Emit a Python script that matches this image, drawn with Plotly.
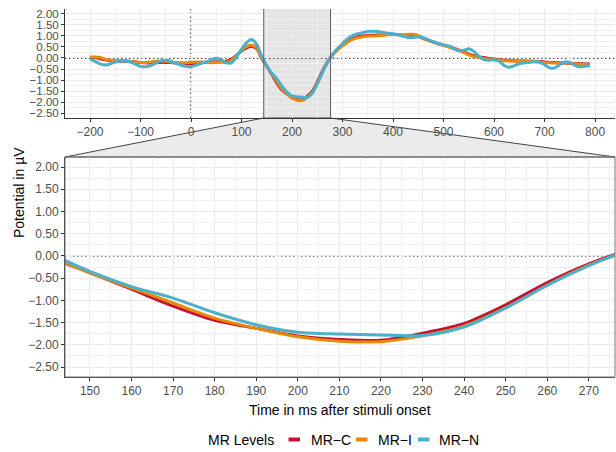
import plotly.graph_objects as go

# ---------------- data ----------------
time_ms = list(range(-200, 800, 10))

mr_c = [0.02, 0.02, -0.03, -0.08, -0.12, -0.14, -0.15, -0.15, -0.16, -0.18,
        -0.20, -0.22, -0.22, -0.21, -0.20, -0.20, -0.21, -0.23, -0.24, -0.25,
        -0.25, -0.24, -0.22, -0.20, -0.18, -0.17, -0.17, -0.15, -0.05, 0.12,
        0.32, 0.46, 0.52, 0.42, -0.02, -0.38, -0.75, -1.13, -1.45, -1.63,
        -1.80, -1.88, -1.90, -1.74, -1.52, -1.10, -0.60, -0.18, 0.15, 0.40,
        0.60, 0.78, 0.90, 0.97, 1.00, 1.02, 1.03, 1.04, 1.06, 1.07,
        1.07, 1.06, 1.03, 1.02, 1.02, 0.98, 0.88, 0.80, 0.72, 0.64,
        0.58, 0.52, 0.45, 0.36, 0.28, 0.18, 0.10, 0.05, 0.02, -0.02,
        -0.05, -0.08, -0.10, -0.12, -0.13, -0.14, -0.14, -0.15, -0.15, -0.16,
        -0.18, -0.20, -0.21, -0.22, -0.23, -0.24, -0.25, -0.26, -0.27, -0.27]

mr_i = [0.04, 0.05, 0.02, -0.05, -0.10, -0.12, -0.12, -0.13, -0.15, -0.18,
        -0.20, -0.20, -0.18, -0.15, -0.14, -0.15, -0.18, -0.20, -0.22, -0.22,
        -0.20, -0.18, -0.18, -0.20, -0.22, -0.20, -0.18, -0.20, -0.10, 0.10,
        0.35, 0.52, 0.58, 0.45, 0.00, -0.38, -0.72, -1.06, -1.40, -1.63,
        -1.82, -1.92, -1.93, -1.80, -1.58, -1.17, -0.66, -0.21, 0.12, 0.36,
        0.55, 0.72, 0.85, 0.92, 0.96, 0.99, 1.00, 1.01, 1.03, 1.05,
        1.06, 1.07, 1.06, 1.08, 1.08, 1.02, 0.90, 0.80, 0.72, 0.65,
        0.58, 0.50, 0.42, 0.34, 0.25, 0.14, 0.06, 0.02, -0.02, -0.05,
        -0.08, -0.10, -0.12, -0.13, -0.14, -0.15, -0.15, -0.15, -0.16, -0.18,
        -0.20, -0.22, -0.23, -0.22, -0.22, -0.24, -0.26, -0.28, -0.30, -0.30]

mr_n = [-0.05, -0.15, -0.27, -0.32, -0.27, -0.18, -0.14, -0.15, -0.18, -0.28,
        -0.38, -0.40, -0.35, -0.24, -0.14, -0.10, -0.15, -0.24, -0.32, -0.38,
        -0.40, -0.33, -0.25, -0.18, -0.08, -0.01, -0.08, -0.22, -0.22, 0.05,
        0.40, 0.70, 0.84, 0.62, 0.08, -0.35, -0.69, -0.95, -1.28, -1.55,
        -1.72, -1.76, -1.78, -1.79, -1.60, -1.17, -0.66, -0.22, 0.15, 0.42,
        0.66, 0.88, 1.02, 1.10, 1.15, 1.20, 1.22, 1.20, 1.16, 1.12,
        1.10, 1.06, 0.98, 0.93, 0.93, 0.96, 0.92, 0.83, 0.74, 0.66,
        0.60, 0.55, 0.44, 0.33, 0.35, 0.42, 0.30, 0.08, -0.07, -0.10,
        -0.08, -0.15, -0.34, -0.42, -0.35, -0.26, -0.22, -0.20, -0.17, -0.18,
        -0.30, -0.45, -0.45, -0.30, -0.18, -0.20, -0.33, -0.40, -0.37, -0.35]

series_names = ["MR\u2212C", "MR\u2212I", "MR\u2212N"]
series_values = [mr_c, mr_i, mr_n]
series_colors = ["#C4122F", "#E8890C", "#4AB0CC"]

top_xticks = [-200, -100, 0, 100, 200, 300, 400, 500, 600, 700, 800]
bottom_xticks = [150, 160, 170, 180, 190, 200, 210, 220, 230, 240, 250, 260, 270]
y_ticks = [-2.5, -2.0, -1.5, -1.0, -0.5, 0.0, 0.5, 1.0, 1.5, 2.0]

top_xrange = [-249.5, 839.5]
zoom_range = [144.0, 276.3]
y_range = [-2.725, 2.225]

# ---------------- layout geometry ----------------
W, H = 616, 452
FONT = "Liberation Sans, Arial, sans-serif"
x_dom = [65 / W, 615 / W]
top_dom = [1 - 118 / H, 1 - 9 / H]
bot_dom = [1 - 377 / H, 1 - 157 / H]

fig = go.Figure()
for name, vals, col in zip(series_names, series_values, series_colors):
    for xa, ya in (("x", "y"), ("x2", "y2")):
        fig.add_trace(go.Scatter(
            x=time_ms, y=vals, mode="lines", name=name,
            line=dict(color=col, width=3, shape="spline", smoothing=0.8),
            xaxis=xa, yaxis=ya, showlegend=False, hoverinfo="skip"))

def axis_common(size):
    return dict(
        showline=True, linecolor="#333333", linewidth=1,
        ticks="outside", ticklen=3, tickcolor="#333333", tickwidth=1,
        showgrid=True, gridcolor="#EBEBEB", gridwidth=1.2,
        zeroline=False, automargin=False,
        tickfont=dict(family=FONT, size=size, color="#4D4D4D"),
        mirror=False,
    )

minor_grid = dict(showgrid=True, gridcolor="#F0F0F0", gridwidth=0.7, ticks="")

fig.update_layout(
    width=W, height=H, template="none",
    margin=dict(l=0, r=0, t=0, b=0, pad=0),
    paper_bgcolor="white", plot_bgcolor="rgba(0,0,0,0)",
    showlegend=False,
    font=dict(family=FONT),
    xaxis=dict(domain=x_dom, anchor="y", range=top_xrange, tickmode="array",
               tickvals=top_xticks,
               minor=dict(tickmode="linear", tick0=-250, dtick=50, **minor_grid),
               **axis_common(12)),
    yaxis=dict(domain=top_dom, anchor="x", range=y_range, tickmode="array",
               tickvals=y_ticks, tickformat=".2f",
               minor=dict(tickmode="linear", tick0=0, dtick=0.25, **minor_grid),
               **axis_common(11.5)),
    xaxis2=dict(domain=x_dom, anchor="y2", range=zoom_range, tickmode="array",
                tickvals=bottom_xticks,
                minor=dict(tickmode="linear", tick0=145, dtick=5, **minor_grid),
                **axis_common(12)),
    yaxis2=dict(domain=bot_dom, anchor="x2", range=y_range, tickmode="array",
                tickvals=y_ticks, tickformat=".2f",
                minor=dict(tickmode="linear", tick0=0, dtick=0.25, **minor_grid),
                **axis_common(12)),
)

DOTTED = dict(color="black", width=1.4, dash="1.4px,2.6px")
ZOOM_EDGE = dict(color="#5E5E5E", width=1)

shapes = []
# zoom indicator in the overview panel (fill under the grid, solid edges on top)
shapes.append(dict(type="rect", xref="x", yref="paper", x0=zoom_range[0], x1=zoom_range[1],
                   y0=top_dom[0], y1=top_dom[1], fillcolor="#E4E4E4",
                   line=dict(width=0), layer="below"))
for zx in zoom_range:
    shapes.append(dict(type="line", xref="x", yref="paper", x0=zx, x1=zx,
                       y0=top_dom[0], y1=top_dom[1], line=ZOOM_EDGE, layer="above"))

# trapezoid connecting the zoom area to the zoomed panel (paper coords)
def top_x_to_paper(t):
    frac = (t - top_xrange[0]) / (top_xrange[1] - top_xrange[0])
    return x_dom[0] + frac * (x_dom[1] - x_dom[0])

ax0, ax1 = top_x_to_paper(zoom_range[0]), top_x_to_paper(zoom_range[1])
yb_top = top_dom[0]
yt_bot = bot_dom[1]
path = (f"M {ax0},{yb_top} L {ax1},{yb_top} L {x_dom[1]},{yt_bot} "
        f"L {x_dom[0]},{yt_bot} Z")
shapes.append(dict(type="path", xref="paper", yref="paper", path=path,
                   fillcolor="#EBEBEB", line=dict(color="#444444", width=1), layer="below"))

# border of the zoomed panel
shapes.append(dict(type="rect", xref="paper", yref="paper", x0=x_dom[0], x1=x_dom[1],
                   y0=bot_dom[0], y1=bot_dom[1],
                   line=dict(color="#777777", width=1), layer="above"))

# dotted reference lines
shapes.append(dict(type="line", xref="paper", yref="y", x0=x_dom[0], x1=x_dom[1], y0=0, y1=0,
                   line=DOTTED, layer="below"))
shapes.append(dict(type="line", xref="paper", yref="y2", x0=x_dom[0], x1=x_dom[1], y0=0, y1=0,
                   line=DOTTED, layer="below"))
shapes.append(dict(type="line", xref="x", yref="paper", x0=0, x1=0, y0=top_dom[0], y1=top_dom[1],
                   line=DOTTED, layer="below"))

# legend (drawn manually to match ggplot-style short keys)
leg_y = 1 - 439.5 / H
key_x = [288.5, 356.0, 418.0]
lab_x = [308.5, 376.0, 436.5]
for col, kx in zip(series_colors, key_x):
    shapes.append(dict(type="line", xref="paper", yref="paper", x0=kx / W, x1=(kx + 11.5) / W,
                       y0=leg_y, y1=leg_y, line=dict(color=col, width=4)))

annotations = [
    dict(text="Time in ms after stimuli onset", xref="paper", yref="paper",
         x=340 / W, y=1 - 410 / H, showarrow=False, xanchor="center", yanchor="middle",
         font=dict(family=FONT, size=14, color="black")),
    dict(text="Potential in \u00b5V", xref="paper", yref="paper",
         x=19 / W, y=1 - 193 / H, showarrow=False, textangle=-90,
         xanchor="center", yanchor="middle",
         font=dict(family=FONT, size=14, color="black")),
    dict(text="MR Levels", xref="paper", yref="paper", x=206 / W, y=leg_y,
         xanchor="left", yanchor="middle", showarrow=False,
         font=dict(family=FONT, size=14, color="black")),
]
for name, lx in zip(series_names, lab_x):
    annotations.append(dict(text=name, xref="paper", yref="paper", x=lx / W, y=leg_y,
                            xanchor="left", yanchor="middle", showarrow=False,
                            font=dict(family=FONT, size=14, color="black")))

fig.update_layout(shapes=shapes, annotations=annotations)
fig.write_html("out.html")
